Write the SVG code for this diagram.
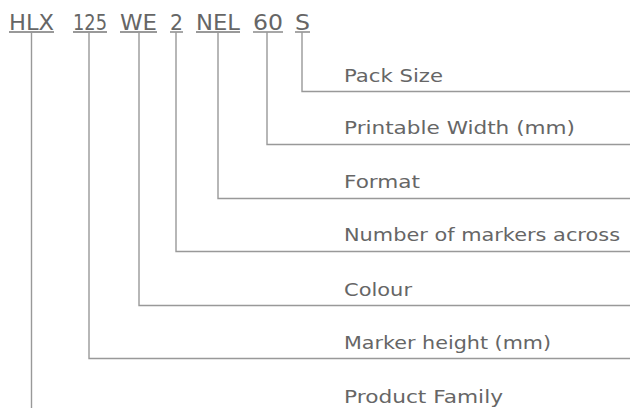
<svg xmlns="http://www.w3.org/2000/svg" width="630" height="408" viewBox="0 0 630 408">
<style>
.code{font-family:"DejaVu Sans","Liberation Sans",sans-serif;font-size:20.5px;fill:#666}
.lbl{font-family:"DejaVu Sans","Liberation Sans",sans-serif;font-size:18px;fill:#666}
.ul{stroke:#777;stroke-width:1.3;fill:none}
.conn{stroke:#999;stroke-width:1.4;fill:none}
</style>
<rect width="630" height="408" fill="#fff"/>
<g id="codes">
<g id="code-hlx"><text class="code" x="9" y="30" textLength="45" lengthAdjust="spacingAndGlyphs">HLX</text><line class="ul" x1="9" y1="32" x2="54" y2="32"/></g>
<g id="code-125"><text class="code" x="73" y="30" textLength="34" lengthAdjust="spacingAndGlyphs">125</text><line class="ul" x1="73" y1="32" x2="107" y2="32"/></g>
<g id="code-we"><text class="code" x="120" y="30" textLength="37" lengthAdjust="spacingAndGlyphs">WE</text><line class="ul" x1="120" y1="32" x2="157" y2="32"/></g>
<g id="code-2"><text class="code" x="170" y="30" textLength="13" lengthAdjust="spacingAndGlyphs">2</text><line class="ul" x1="170" y1="32" x2="183" y2="32"/></g>
<g id="code-nel"><text class="code" x="196" y="30" textLength="44" lengthAdjust="spacingAndGlyphs">NEL</text><line class="ul" x1="196" y1="32" x2="240" y2="32"/></g>
<g id="code-60"><text class="code" x="253" y="30" textLength="30" lengthAdjust="spacingAndGlyphs">60</text><line class="ul" x1="253" y1="32" x2="283" y2="32"/></g>
<g id="code-s"><text class="code" x="295" y="30" textLength="15" lengthAdjust="spacingAndGlyphs">S</text><line class="ul" x1="295" y1="32" x2="310" y2="32"/></g>
</g>
<g id="labels">
<g id="lbl-pack"><text class="lbl" x="344" y="81.5" textLength="99" lengthAdjust="spacingAndGlyphs">Pack Size</text></g>
<g id="lbl-width"><text class="lbl" x="344" y="134" textLength="231" lengthAdjust="spacingAndGlyphs">Printable Width (mm)</text></g>
<g id="lbl-format"><text class="lbl" x="344" y="188" textLength="76" lengthAdjust="spacingAndGlyphs">Format</text></g>
<g id="lbl-number"><text class="lbl" x="344" y="241" textLength="276" lengthAdjust="spacingAndGlyphs">Number of markers across</text></g>
<g id="lbl-colour"><text class="lbl" x="344" y="295.5" textLength="68" lengthAdjust="spacingAndGlyphs">Colour</text></g>
<g id="lbl-height"><text class="lbl" x="344" y="349" textLength="207" lengthAdjust="spacingAndGlyphs">Marker height (mm)</text></g>
<g id="lbl-family"><text class="lbl" x="344" y="403" textLength="159" lengthAdjust="spacingAndGlyphs">Product Family</text></g>
</g>
<g id="connectors">
<polyline class="conn" points="302,32 302,91.5 630,91.5"/>
<polyline class="conn" points="267,32 267,144.5 630,144.5"/>
<polyline class="conn" points="218,32 218,198.5 630,198.5"/>
<polyline class="conn" points="176,32 176,251.5 630,251.5"/>
<polyline class="conn" points="139,32 139,305.5 630,305.5"/>
<polyline class="conn" points="89,32 89,358.5 630,358.5"/>
<polyline class="conn" points="31.5,32 31.5,408"/>
</g>
</svg>
